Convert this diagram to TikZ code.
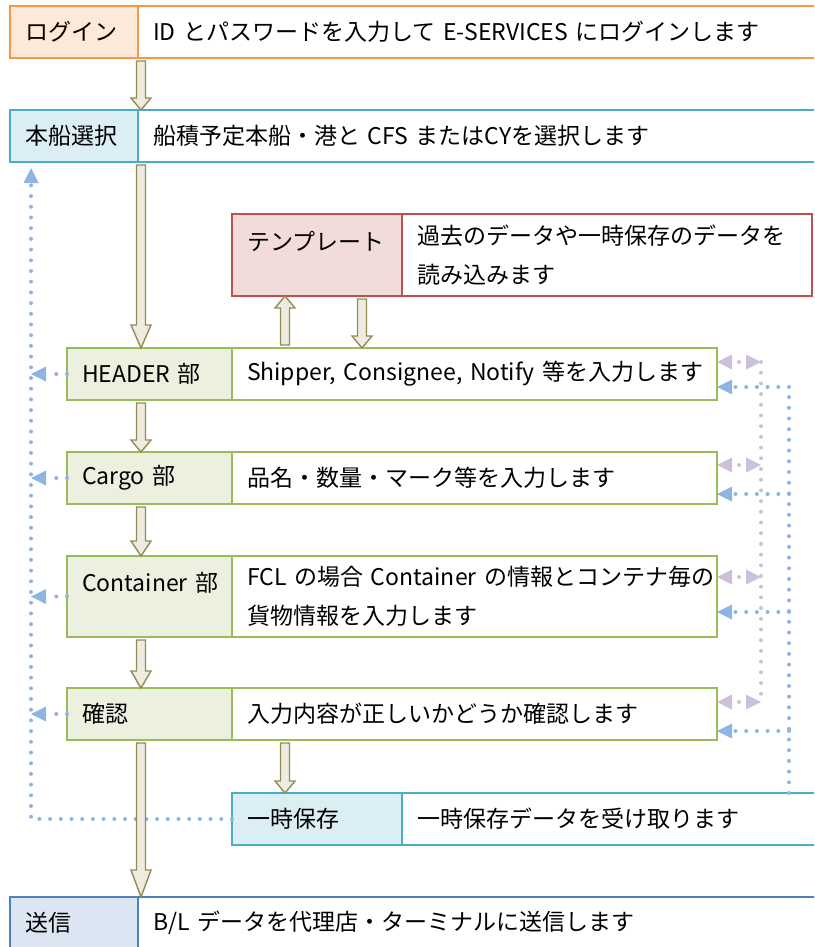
\documentclass[tikz,border=0pt]{standalone}
\usepackage{fontspec}
\setmainfont[WordSpace={0.6,0,0}]{Noto Sans CJK JP}
\usetikzlibrary{arrows.meta,calc,positioning}

\definecolor{logline}{HTML}{F79646}
\definecolor{logfill}{HTML}{FDE9D9}
\definecolor{aqline}{HTML}{4BACC6}
\definecolor{aqfill}{HTML}{DAEEF3}
\definecolor{redline}{HTML}{C0504D}
\definecolor{redfill}{HTML}{F2DCDB}
\definecolor{grnline}{HTML}{9BBB59}
\definecolor{grnfill}{HTML}{EBF1DE}
\definecolor{bluline}{HTML}{4F81BD}
\definecolor{blufill}{HTML}{DCE6F2}
\definecolor{arrline}{HTML}{948A54}
\definecolor{arrfill}{HTML}{EEECE1}
\definecolor{dotblue}{HTML}{8EB4E3}
\definecolor{dotpurp}{HTML}{CCC0DA}

\tikzset{
  lbox/.style 2 args={draw=#1, fill=#2, line width=1.6pt, outer sep=0pt,
    inner xsep=15pt, inner ysep=0pt, minimum height=52pt, align=left,
    anchor=north west, font=\fontsize{23pt}{39pt}\selectfont},
  rbox/.style={lbox={#1}{white}},
  toptext/.style={text height=20pt, text depth=30pt},
  flowarr/.style={draw=arrline, fill=arrfill, line width=1.4pt},
  bluedot/.style={draw=dotblue, line width=4pt, line cap=round,
    dash pattern=on 0pt off 10.7pt,
    >={Triangle[length=15pt,width=15pt,line width=0pt]}},
  purpdot/.style={bluedot, draw=dotpurp},
}

\newcommand{\flowarrow}[4][12pt]{%
  \coordinate (fa-s) at ($(#2 |- #3)!3pt!(#2 |- #4)$);
  \coordinate (fa-t) at (#2 |- #4);
  \coordinate (fa-h) at ($(fa-t)!#1!(fa-s)$);
  \draw[flowarr] ($(fa-s)!4.5pt!90:(fa-t)$) -- ($(fa-h)!4.5pt!-90:(fa-s)$)
    -- ($(fa-h)!10pt!-90:(fa-s)$) -- (fa-t) -- ($(fa-h)!10pt!90:(fa-s)$)
    -- ($(fa-h)!4.5pt!90:(fa-s)$) -- ($(fa-s)!4.5pt!-90:(fa-t)$) -- cycle;
}

\begin{document}
\begin{tikzpicture}[x=1pt,y=-1pt]
\useasboundingbox (0,0) rectangle (814,947);
\clip (0,0) rectangle (814,947);

\node[lbox={logline}{logfill}, text width=98pt] (log-l) at (10,6) {ログイン};
\node[rbox=logline, text width=662pt, right=0pt of log-l] (log-r) {ID とパスワードを入力して E-SERVICES にログインします};

\node[lbox={aqline}{aqfill}, text width=98pt] (shp-l) at (10,110) {本船選択};
\node[rbox=aqline, text width=662pt, right=0pt of shp-l] (shp-r) {船積予定本船・港と CFS またはCYを選択します};

\node[lbox={redline}{redfill}, text width=140pt, minimum height=82pt, toptext] (tpl-l) at (232,214) {テンプレート};
\node[rbox=redline, text width=380pt, minimum height=82pt, right=0pt of tpl-l] (tpl-r) {過去のデータや一時保存のデータを\\読み込みます};

\node[lbox={grnline}{grnfill}, text width=135pt] (hdr-l) at (67,348) {HEADER 部};
\node[rbox=grnline, text width=455pt, right=0pt of hdr-l] (hdr-r) {\mbox{Shipper, Consignee, Notify 等を入力します}};

\node[lbox={grnline}{grnfill}, text width=135pt] (cgo-l) at (67,452) {Cargo 部};
\node[rbox=grnline, text width=455pt, right=0pt of cgo-l] (cgo-r) {品名・数量・マーク等を入力します};

\node[lbox={grnline}{grnfill}, text width=135pt, minimum height=81pt, toptext] (ctn-l) at (67,556) {\mbox{Container 部}};
\node[rbox=grnline, text width=455pt, minimum height=81pt, right=0pt of ctn-l] (ctn-r) {\mbox{FCL の場合 Container の情報とコンテナ毎の}\\貨物情報を入力します};

\node[lbox={grnline}{grnfill}, text width=135pt] (chk-l) at (67,688) {確認};
\node[rbox=grnline, text width=455pt, right=0pt of chk-l] (chk-r) {入力内容が正しいかどうか確認します};

\node[lbox={aqline}{aqfill}, text width=140pt] (hoz-l) at (232,793) {一時保存};
\node[rbox=aqline, text width=398pt, right=0pt of hoz-l] (hoz-r) {一時保存データを受け取ります};

\node[lbox={bluline}{blufill}, text width=98pt] (snd-l) at (10,897) {送信};
\node[rbox=bluline, text width=662pt, right=0pt of snd-l] (snd-r) {B/L データを代理店・ターミナルに送信します};

\coordinate (lbus) at ([shift={(21,6)}]shp-l.south west);
\coordinate (pbus) at ([xshift=44pt]hdr-r.east);
\coordinate (rbus) at ([xshift=72pt]hdr-r.east);

\foreach \b/\p/\q in {hdr/14/13, cgo/13/10, ctn/21/25, chk/14/9} {
  \coordinate (\b-p) at ([yshift=-\p pt]\b-r.north east);
  \coordinate (\b-q) at ([yshift=\q pt]\b-r.south east);
  \draw[purpdot, <->, dash pattern=on 0pt off 14pt, dash phase=7pt] (\b-p) -- (\b-p -| pbus);
  \draw[bluedot, ->] (\b-q -| rbus) -- (\b-q);
  \draw[bluedot, ->] (\b-l.west) -- (\b-l.west -| lbus);
}
\draw[purpdot] (hdr-p -| pbus) -- (chk-p -| pbus);
\draw[bluedot] (hoz-r.north -| rbus) -- (hdr-q -| rbus);
\draw[bluedot, ->] (hoz-l.west) -| (lbus);

\coordinate (colA) at ([xshift=3pt]log-l.east);
\coordinate (colB) at ([xshift=53pt]tpl-l.west);
\coordinate (colC) at ([xshift=130pt]tpl-l.west);
\flowarrow{colA}{log-l.south}{shp-l.north}
\flowarrow[23pt]{colA}{shp-l.south}{hdr-l.north}
\flowarrow{colA}{hdr-l.south}{cgo-l.north}
\flowarrow[15pt]{colA}{cgo-l.south}{ctn-l.north}
\flowarrow[17pt]{colA}{ctn-l.south}{chk-l.north}
\flowarrow[27pt]{colA}{chk-l.south}{snd-l.north}
\flowarrow{colB}{hdr-r.north}{tpl-l.south}
\flowarrow{colC}{tpl-r.south}{hdr-r.north}
\flowarrow{colB}{chk-r.south}{hoz-l.north}
\end{tikzpicture}
\end{document}
